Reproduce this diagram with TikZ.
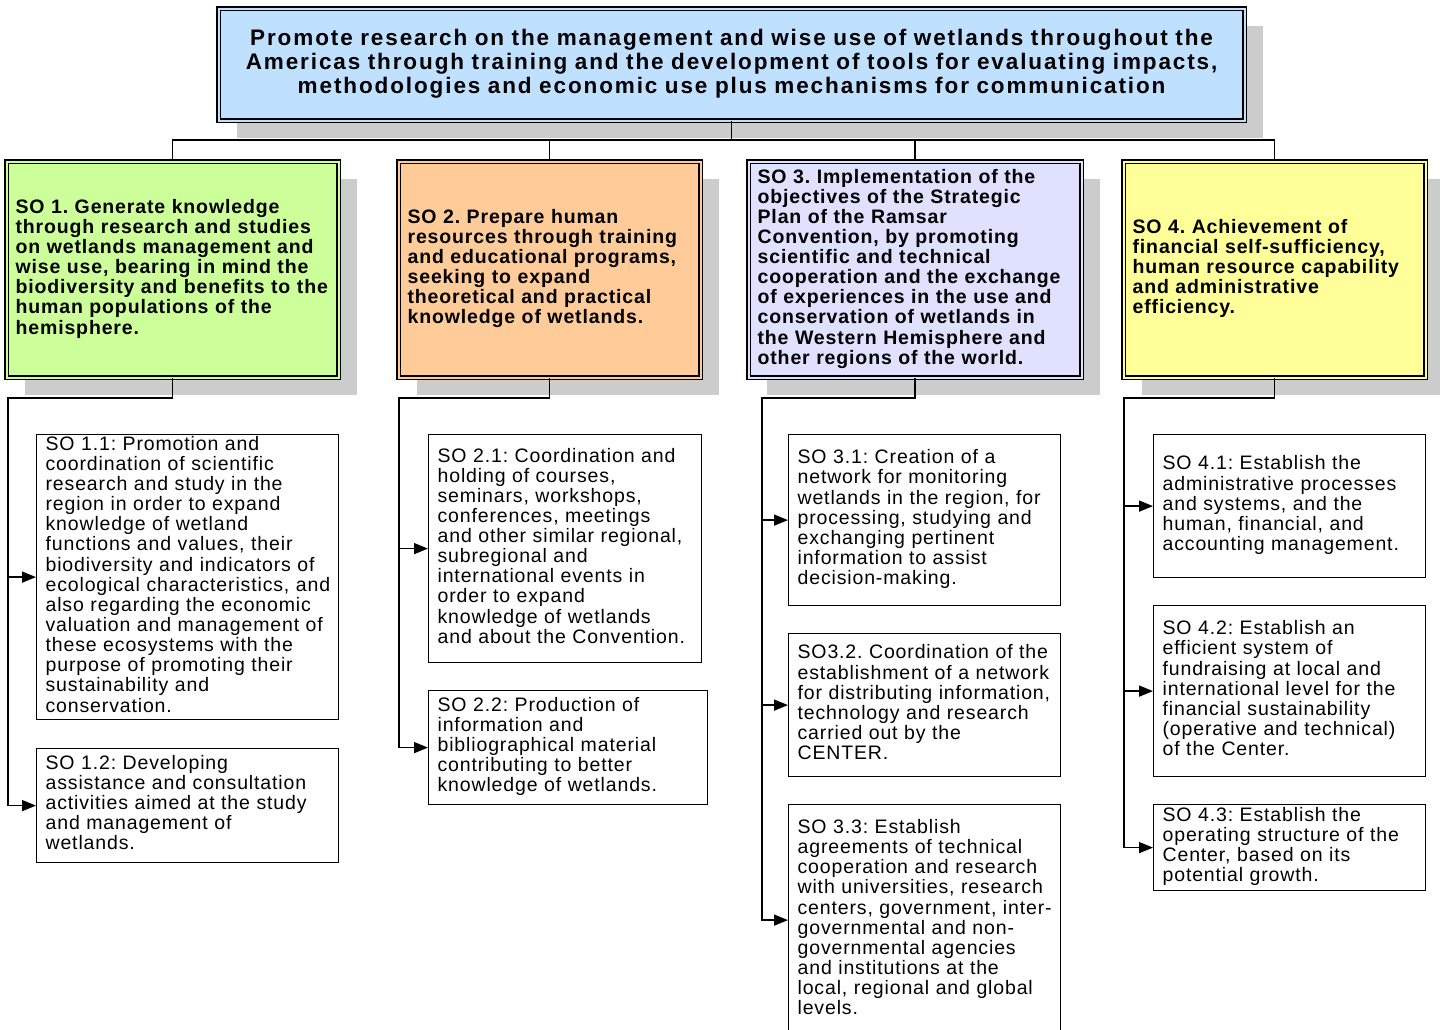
\documentclass[tikz,border=0pt]{standalone}
\usepackage{fontspec}
\setmainfont{Liberation Sans}[LetterSpace=4.4]
\newfontfamily\goalfont{Liberation Sans}[LetterSpace=8.4]
\usetikzlibrary{arrows.meta,shadows}
\definecolor{goalblue}{HTML}{C0E0FF}
\definecolor{sogreen}{HTML}{CCFF99}
\definecolor{soorange}{HTML}{FFCC99}
\definecolor{solilac}{HTML}{E0E0FF}
\definecolor{soyellow}{HTML}{FFFF99}
\definecolor{shadegray}{HTML}{CCCCCC}
\frenchspacing
\newcommand{\rows}[1]{\begin{tabular}{@{}l@{}}#1\end{tabular}}
\newcommand{\crows}[1]{\begin{tabular}{@{}c@{}}#1\end{tabular}}
\tikzset{
  box/.style={rectangle,inner xsep=9pt,inner ysep=1pt,align=left,anchor=north west},
  headbox/.style={box,draw=black,line width=1.2pt,double=#1,double distance=2pt,fill=#1,
    drop shadow={shadow xshift=18pt,shadow yshift=-17pt,fill=shadegray,opacity=1},
    font=\fontsize{19.5}{20}\selectfont\bfseries},
  subbox/.style={box,draw=black,line width=1.2pt,fill=white,font=\fontsize{19.5}{20}\selectfont},
  link/.style={line width=1.5pt},
  feed/.style={link,-{Triangle[length=14pt,width=11pt]}}
}
\begin{document}
\begin{tikzpicture}[x=1pt,y=-1pt]
	\useasboundingbox (0,0) rectangle (1440,1030);
	% general objective
	\node[headbox=goalblue,align=center,text width=1008pt,minimum height=112pt,
		font=\goalfont\fontsize{22.5}{24}\selectfont\bfseries] (goal) at (218,8)
		{\crows{Promote research on the management and wise use of wetlands throughout the\\
		Americas through training and the development of tools for evaluating impacts,\\
		methodologies and economic use plus mechanisms for communication}};
	% specific objectives
	\node[headbox=sogreen,text width=314pt,minimum height=216pt] (so1) at (6,161)
		{\rows{SO 1. Generate knowledge\\through research and studies\\on wetlands management and\\wise use, bearing in mind the\\biodiversity and benefits to the\\human populations of the\\hemisphere.}};
	\node[headbox=soorange,text width=284pt,minimum height=216pt] (so2) at (398,161)
		{\rows{SO 2. Prepare human\\resources through training\\and educational programs,\\seeking to expand\\theoretical and practical\\knowledge of wetlands.}};
	\node[headbox=solilac,text width=315pt,minimum height=216pt] (so3) at (748,161)
		{\rows{SO 3. Implementation of the\\objectives of the Strategic\\Plan of the Ramsar\\Convention, by promoting\\scientific and technical\\cooperation and the exchange\\of experiences in the use and\\conservation of wetlands in\\the Western Hemisphere and\\other regions of the world.}};
	\node[headbox=soyellow,text width=284pt,minimum height=216pt] (so4) at (1123,161)
		{\rows{SO 4. Achievement of\\financial self-sufficiency,\\human resource capability\\and administrative\\efficiency.}};
	% sub-objectives
	\node[subbox,text width=284pt,minimum height=285pt] (s11) at (36,434)
		{\rows{SO 1.1: Promotion and\\coordination of scientific\\research and study in the\\region in order to expand\\knowledge of wetland\\functions and values, their\\biodiversity and indicators of\\ecological characteristics, and\\also regarding the economic\\valuation and management of\\these ecosystems with the\\purpose of promoting their\\sustainability and\\conservation.}};
	\node[subbox,text width=284pt,minimum height=114pt] (s12) at (36,748)
		{\rows{SO 1.2: Developing\\assistance and consultation\\activities aimed at the study\\and management of\\wetlands.}};
	\node[subbox,text width=255pt,minimum height=228pt] (s21) at (428,434)
		{\rows{SO 2.1: Coordination and\\holding of courses,\\seminars, workshops,\\conferences, meetings\\and other similar regional,\\subregional and\\international events in\\order to expand\\knowledge of wetlands\\and about the Convention.}};
	\node[subbox,text width=261pt,minimum height=114pt] (s22) at (428,690)
		{\rows{SO 2.2: Production of\\information and\\bibliographical material\\contributing to better\\knowledge of wetlands.}};
	\node[subbox,text width=254pt,minimum height=171pt] (s31) at (788,434)
		{\rows{SO 3.1: Creation of a\\network for monitoring\\wetlands in the region, for\\processing, studying and\\exchanging pertinent\\information to assist\\decision-making.}};
	\node[subbox,text width=254pt,minimum height=143pt] (s32) at (788,633)
		{\rows{SO3.2. Coordination of the\\establishment of a network\\for distributing information,\\technology and research\\carried out by the\\CENTER.}};
	\node[subbox,text width=254pt,minimum height=231pt] (s33) at (788,804)
		{\rows{SO 3.3: Establish\\agreements of technical\\cooperation and research\\with universities, research\\centers, government, inter-\\governmental and non-\\governmental agencies\\and institutions at the\\local, regional and global\\levels.}};
	\node[subbox,text width=254pt,minimum height=143pt] (s41) at (1153,434)
		{\rows{SO 4.1: Establish the\\administrative processes\\and systems, and the\\human, financial, and\\accounting management.}};
	\node[subbox,text width=254pt,minimum height=171pt] (s42) at (1153,605)
		{\rows{SO 4.2: Establish an\\efficient system of\\fundraising at local and\\international level for the\\financial sustainability\\(operative and technical)\\of the Center.}};
	\node[subbox,text width=254pt,minimum height=86pt] (s43) at (1153,804)
		{\rows{SO 4.3: Establish the\\operating structure of the\\Center, based on its\\potential growth.}};
	% top connectors
	\draw[link](goal.south)--++(0,19) coordinate (hub);
	\draw[link](hub)-|(so1.north) (hub)-|(so2.north) (hub)-|(so3.north) (hub)-|(so4.north);
	% branch trunks
	\coordinate (t1) at (8,398);
	\coordinate (t2) at (399,398);
	\coordinate (t3) at (762,398);
	\coordinate (t4) at (1124,398);
	\draw[feed](so1.south)|-(t1)|-(s11.west);
	\draw[feed](t1)|-(s12.west);
	\draw[feed](so2.south)|-(t2)|-(s21.west);
	\draw[feed](t2)|-(s22.west);
	\draw[feed](so3.south)|-(t3)|-(s31.west);
	\draw[feed](t3)|-(s32.west);
	\draw[feed](t3)|-(s33.west);
	\draw[feed](so4.south)|-(t4)|-(s41.west);
	\draw[feed](t4)|-(s42.west);
	\draw[feed](t4)|-(s43.west);
\end{tikzpicture}
\end{document}
